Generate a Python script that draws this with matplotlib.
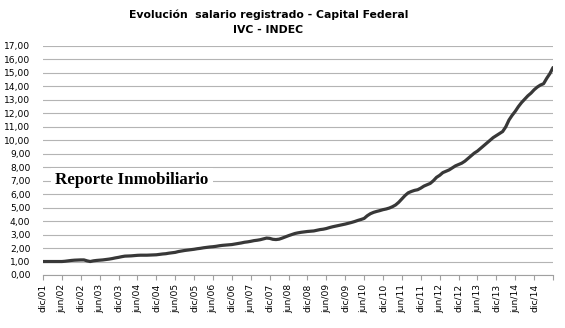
import matplotlib
matplotlib.use("Agg")
import matplotlib.pyplot as plt

# Data: monthly index, dic/01 = 1,00
salario = [
    1.00, 1.00, 1.00, 1.00, 1.00, 1.00, 1.00, 1.02, 1.05, 1.08,
    1.10, 1.11, 1.12, 1.12, 1.05, 1.00, 1.05, 1.08, 1.10, 1.12,
    1.15, 1.18, 1.22, 1.27, 1.31, 1.36, 1.40, 1.41, 1.42, 1.44,
    1.46, 1.47, 1.47, 1.47, 1.48, 1.49, 1.50, 1.53, 1.56, 1.58,
    1.62, 1.65, 1.68, 1.74, 1.78, 1.82, 1.85, 1.88, 1.91, 1.95,
    1.98, 2.02, 2.05, 2.08, 2.10, 2.13, 2.17, 2.20, 2.22, 2.24,
    2.26, 2.30, 2.34, 2.38, 2.43, 2.46, 2.50, 2.55, 2.58, 2.62,
    2.68, 2.74, 2.72, 2.65, 2.63, 2.66, 2.74, 2.83, 2.92, 3.00,
    3.08, 3.13, 3.17, 3.20, 3.23, 3.25, 3.27, 3.32, 3.37, 3.40,
    3.45, 3.52, 3.58, 3.63, 3.68, 3.73, 3.78, 3.84, 3.90, 3.97,
    4.05, 4.12, 4.20, 4.40, 4.55, 4.65, 4.72, 4.78, 4.85, 4.90,
    4.97, 5.07, 5.20, 5.40, 5.65, 5.90, 6.10, 6.20, 6.28, 6.33,
    6.45, 6.60, 6.70, 6.80, 7.00, 7.25, 7.40, 7.60, 7.70, 7.80,
    7.95, 8.10, 8.20, 8.30, 8.45, 8.65, 8.85, 9.05, 9.20, 9.40,
    9.60, 9.80, 10.00, 10.20, 10.35, 10.50, 10.65, 11.00, 11.50, 11.85,
    12.15, 12.50, 12.80, 13.05, 13.30, 13.50, 13.75, 13.95, 14.10, 14.20,
    14.60, 14.95, 15.40,
]

tick_labels = [
    "dic/01", "jun/02", "dic/02", "jun/03", "dic/03", "jun/04", "dic/04",
    "jun/05", "dic/05", "jun/06", "dic/06", "jun/07", "dic/07", "jun/08",
    "dic/08", "jun/09", "dic/09", "jun/10", "dic/10", "jun/11", "dic/11",
    "jun/12", "dic/12", "jun/13", "dic/13", "jun/14", "dic/14", "",
]

y_ticks = list(range(0, 18))

months = list(range(len(salario)))

fig = plt.figure(figsize=(5.65, 3.28), dpi=100)
ax = fig.add_axes([0.0761, 0.1616, 0.9027, 0.6982])

ax.plot(months, salario, color="#383838", lw=2.3, solid_capstyle="round", zorder=3)

ax.set_xlim(0, len(salario) - 1)
ax.set_ylim(0, 17)
ax.set_yticks(y_ticks)
ax.set_yticklabels([f"{v:.2f}".replace(".", ",") for v in y_ticks],
                   fontsize=6.6, family="DejaVu Sans")
ax.set_xticks(range(0, len(salario), 6))
ax.set_xticklabels(tick_labels, rotation=90, fontsize=6.6, family="DejaVu Sans")

ax.grid(axis="y", color="#b4b4b4", lw=0.8)
ax.set_axisbelow(True)
for s in ["top", "right", "left"]:
    ax.spines[s].set_visible(False)
ax.spines["bottom"].set_color("#a0a0a0")
ax.spines["bottom"].set_linewidth(0.8)
ax.tick_params(axis="y", length=0, pad=9)
ax.tick_params(axis="x", length=3.5, color="#a0a0a0", width=0.8, pad=3)

fig.text(0.475, 0.955, "Evolución  salario registrado - Capital Federal",
         ha="center", va="center", fontsize=7.8, fontweight="bold", family="DejaVu Sans")
fig.text(0.475, 0.908, "IVC - INDEC",
         ha="center", va="center", fontsize=7.8, fontweight="bold", family="DejaVu Sans")

# watermark
ax.text(0.024, 0.414, "Reporte Inmobiliario", transform=ax.transAxes,
        fontsize=12.2, fontweight="bold", family="Liberation Serif",
        ha="left", va="center", zorder=4,
        bbox=dict(facecolor="white", edgecolor="none", pad=3))

fig.savefig("out.png", dpi=100)
